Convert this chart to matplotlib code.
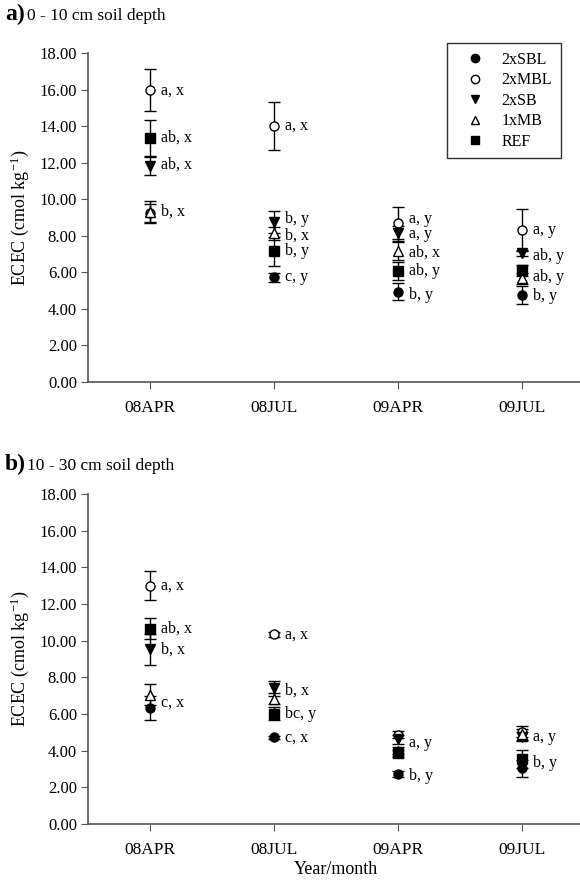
import numpy as np
import matplotlib
matplotlib.use('Agg')
import matplotlib.pyplot as plt
from matplotlib.lines import Line2D

plt.rcParams['font.family'] = ['Liberation Serif', 'DejaVu Serif']
plt.rcParams['mathtext.fontset'] = 'stix'

dates = ['08APR', '08JUL', '09APR', '09JUL']
treatments = ['2xSBL', '2xMBL', '2xSB', '1xMB', 'REF']

# a) 0 - 10 cm
top_mean = {
    '2xSBL': [9.25, 5.72, 4.94, 4.76],
    '2xMBL': [15.95, 14.0, 8.7, 8.31],
    '2xSB': [11.8, 8.75, 8.13, 7.07],
    '1xMB': [9.3, 8.13, 7.16, 5.67],
    'REF': [13.35, 7.15, 6.08, 6.12],
}
top_se = {
    '2xSBL': [0.5, 0.25, 0.45, 0.5],
    '2xMBL': [1.15, 1.3, 0.85, 1.13],
    '2xSB': [0.5, 0.6, 0.4, 0.15],
    '1xMB': [0.6, 0.35, 0.5, 0.3],
    'REF': [1.0, 0.8, 0.5, 0.3],
}
top_letters = {
    '2xSBL': ['', 'c, y', 'b, y', 'b, y'],
    '2xMBL': ['a, x', 'a, x', 'a, y', 'a, y'],
    '2xSB': ['ab, x', 'b, y', 'a, y', 'ab, y'],
    '1xMB': ['b, x', 'b, x', 'ab, x', ''],
    'REF': ['ab, x', 'b, y', 'ab, y', 'ab, y'],
}

# b) 10 - 30 cm
bot_mean = {
    '2xSBL': [6.34, 4.72, 2.74, 3.04],
    '2xMBL': [13.0, 10.34, 4.88, 5.03],
    '2xSB': [9.53, 7.4, 4.61, 4.76],
    '1xMB': [7.06, 6.83, 4.0, 4.9],
    'REF': [10.66, 6.02, 3.85, 3.53],
}
bot_se = {
    '2xSBL': [0.65, 0.1, 0.15, 0.45],
    '2xMBL': [0.8, 0.12, 0.2, 0.3],
    '2xSB': [0.85, 0.4, 0.25, 0.25],
    '1xMB': [0.55, 0.3, 0.2, 0.3],
    'REF': [0.55, 0.35, 0.2, 0.5],
}
bot_letters = {
    '2xSBL': ['c, x', 'c, x', 'b, y', 'b, y'],
    '2xMBL': ['a, x', 'a, x', 'a, y', 'a, y'],
    '2xSB': ['b, x', 'b, x', '', ''],
    '1xMB': ['', '', '', ''],
    'REF': ['ab, x', 'bc, y', '', ''],
}

# small vertical nudges of the letter labels (data units)
top_nudge = {
    '2xSBL': [0, 0, -0.18, -0.06],
    '2xMBL': [0, 0, 0.2, 0],
    '2xSB': [0.1, 0.15, -0.05, -0.18],
    '1xMB': [0, -0.1, -0.1, 0],
    'REF': [0, 0, 0, -0.36],
}
bot_nudge = {
    '2xSBL': [0.3, 0, -0.1, 0.27],
    '2xMBL': [0, 0, -0.45, -0.27],
    '2xSB': [0, -0.1, 0, 0],
    '1xMB': [0, 0, 0, 0],
    'REF': [0, 0, 0, 0],
}

styles = {
    '2xSBL': dict(marker='o', mfc='black'),
    '2xMBL': dict(marker='o', mfc='white'),
    '2xSB': dict(marker='v', mfc='black'),
    '1xMB': dict(marker='^', mfc='white'),
    'REF': dict(marker='s', mfc='black'),
}

W, H = 580, 884
fig = plt.figure(figsize=(W / 100, H / 100), dpi=100)
fig.patch.set_facecolor('w')

ax_top = fig.add_axes([88 / W, 1 - 382 / H, 496 / W, 329 / H])
ax_bot = fig.add_axes([88 / W, 1 - 824 / H, 496 / W, 330 / H])

xpos = np.arange(1, len(dates) + 1)
spine_col = '#555555'


def draw_panel(ax, means, ses, letters, nudges):
    for t in treatments:
        st = styles[t]
        ax.errorbar(xpos, means[t], yerr=ses[t], fmt='none', ecolor='black',
                    elinewidth=1.0, capsize=4, capthick=1.0, zorder=2)
        ax.plot(xpos, means[t], linestyle='none', marker=st['marker'],
                mfc=st['mfc'], mec='black', mew=1.0, ms=6.5, zorder=3)
        for i in range(len(dates)):
            if letters[t][i]:
                ax.text(xpos[i] + 0.09, means[t][i] + nudges[t][i], letters[t][i],
                        fontsize=11.5, va='center', ha='left', zorder=4)
    ax.set_xlim(0.5, 4.5)
    ax.set_ylim(0, 18)
    ax.set_yticks(np.arange(0, 18.01, 2))
    ax.set_yticklabels(['%.2f' % v for v in np.arange(0, 18.01, 2)])
    ax.set_xticks(xpos)
    ax.set_xticklabels(dates)
    ax.tick_params(axis='y', labelsize=12, length=5, color=spine_col, pad=3)
    ax.tick_params(axis='x', labelsize=12.5, length=5, color=spine_col, pad=8)
    for s in ['top', 'right']:
        ax.spines[s].set_visible(False)
    for s in ['left', 'bottom']:
        ax.spines[s].set_color(spine_col)
        ax.spines[s].set_linewidth(1.2)
    ax.set_ylabel('ECEC (cmol kg$^{\\mathregular{-1}}$)', fontsize=13, labelpad=6)


draw_panel(ax_top, top_mean, top_se, top_letters, top_nudge)
draw_panel(ax_bot, bot_mean, bot_se, bot_letters, bot_nudge)
ax_bot.set_xlabel('Year/month', fontsize=13, labelpad=2)

# legend
handles = [Line2D([], [], linestyle='none', marker=styles[t]['marker'],
                  mfc=styles[t]['mfc'], mec='black', mew=1.0, ms=6)
           for t in treatments]
leg = ax_top.legend(handles, treatments, loc='upper right',
                    bbox_to_anchor=(561 / W, 1 - 43 / H), bbox_transform=fig.transFigure,
                    borderaxespad=0, fontsize=11.5, frameon=True, fancybox=False,
                    borderpad=0.55, labelspacing=0.28, handlelength=2.4,
                    handletextpad=0.45)
leg.get_frame().set_edgecolor('black')
leg.get_frame().set_linewidth(1.0)

# panel titles
fig.text(5 / W, 1 - 20 / H, 'a)', fontsize=17, fontweight='bold', va='baseline')
fig.text(27 / W, 1 - 20 / H, '0 - 10 cm soil depth', fontsize=12.5, va='baseline')
fig.text(5 / W, 1 - 470 / H, 'b)', fontsize=17, fontweight='bold', va='baseline')
fig.text(27 / W, 1 - 470 / H, '10 - 30 cm soil depth', fontsize=12.5, va='baseline')

plt.savefig('out.png', dpi=100)
